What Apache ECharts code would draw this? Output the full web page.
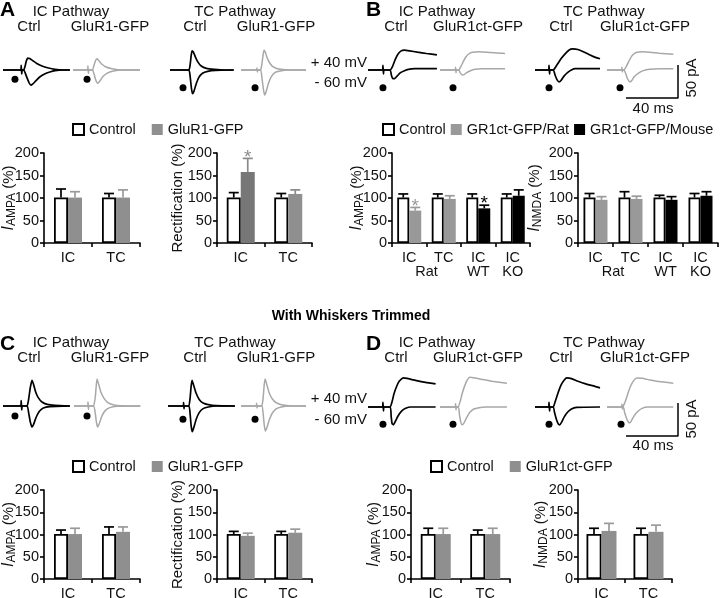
<!DOCTYPE html>
<html>
<head>
<meta charset="utf-8">
<script src="https://cdn.jsdelivr.net/npm/echarts@6.0.0/dist/echarts.min.js"></script>
<style>
html, body { margin: 0; background: #fff; }
#main { width: 720px; height: 598px; }
</style>
</head>
<body>
<div id="main"></div>
<script>
// ---- recordings, [time ms, current pA]; order: IC Ctrl, IC GFP, TC Ctrl, TC GFP ----
const traceA40 = [
  [[0,0],[13.7,0],[14,7],[14.4,-6],[14.8,0],[16,0],[17,6],[18,14],[19,18],[20.5,17.5],[23,14],[26,10],[30,6],[35,3],[40,1],[46,0],[51.5,0]],
  [[0,0],[11.2,0],[11.5,6],[11.8,-5],[12.2,0],[15,0],[16,6],[17.3,14],[18.5,17],[20,14],[22,9],[25,5],[30,2],[38,0],[51.5,0]],
  [[0,0],[14.5,0],[15.5,8],[16.3,22],[17,29],[18,27],[19.5,20],[21.5,12],[24,6],[28,2.5],[34,1],[42,0],[49,0]],
  [[0,0],[12,0],[12.3,3],[12.6,-3],[12.9,0],[15,0],[16,8],[17,23],[17.7,30],[18.7,27],[20,19],[22,11],[24.5,5],[28,2],[34,0.5],[50,0]]
];
const traceA60 = [
  [[0,0],[16,0],[17,-4],[18.5,-12],[20,-19],[21.5,-23],[23,-21],[25,-17],[28,-11],[32,-6],[36,-3],[40,-1],[46,0],[51.5,0]],
  [[0,0],[15,0],[16,-5],[17.5,-15],[19,-20],[20.5,-17],[23,-10],[26,-5],[31,-1.5],[38,0],[51.5,0]],
  [[0,0],[14.5,0],[15.5,-10],[16.5,-28],[17.3,-36],[18.3,-33],[20,-22],[22,-12],[25,-5],[29,-2],[35,-0.5],[49,0]],
  [[0,0],[15,0],[16,-10],[17.3,-30],[18.3,-38],[19.3,-33],[21,-21],[23,-11],[26,-4],[30,-1.5],[36,0],[50,0]]
];
const stimA = [[9.2,-14],[10.8,-14],[10,-27],[10.8,-27]];

const traceB40 = [
  [[0,0],[11.2,0],[11.5,7],[11.9,-6],[12.3,0],[17,0],[19,6],[21,16],[23,24],[25.5,29],[28,30],[32,29],[38,27],[45,25],[53,23]],
  [[0,0],[11.8,0],[12,4],[12.3,-4],[12.6,0],[14.5,0],[16,5],[18,13],[20,20],[22.5,25],[25,27],[30,27.5],[38,26.5],[46,25.5],[50,25]],
  [[0,0],[10.5,0],[10.8,7],[11.2,-6],[11.6,0],[14,0],[16,5],[18,11],[20,17],[23,24],[26,30],[29,32],[33,31],[38,27],[44,21],[50,17]],
  [[0,0],[11.3,0],[11.5,4],[11.8,-3],[12.1,0],[13,0],[15,6],[17,14],[19,21],[21,25],[23,27],[27,27.5],[33,27],[40,25.5],[51,24]]
];
const traceB60 = [
  [[0,0],[17,0],[18,-8],[19,-13],[20.5,-13],[22.5,-9],[25,-4],[28,-1],[31,1],[36,2],[53,2]],
  [[0,0],[14.5,0],[15.5,-4],[17,-7.5],[18.5,-7],[20.5,-4],[23,-1.5],[27,1],[32,2],[50,2]],
  [[0,0],[14,0],[15.5,-8],[17,-15],[18.5,-18],[20,-16],[22,-10],[25,-4],[28,0],[31,2],[38,2],[50,2]],
  [[0,0],[13,0],[14.5,-6],[16,-14],[17.7,-18],[19,-16],[21,-10],[24,-5],[28,-1],[33,1],[40,2],[51,2]]
];
const stimB = [[11.5,-27],[10,-27],[10.8,-27],[10,-27]];

const traceC40 = [
  [[0,0],[13.7,0],[14,8],[14.4,-6],[14.8,0],[18.5,0],[19.7,10],[21,28],[22.3,39],[23.3,34],[25,22],[27,13],[30,6],[34,2.5],[40,1],[51.5,0]],
  [[0,0],[10.5,0],[10.8,6],[11.1,-5],[11.4,0],[15,0],[16.3,12],[17,28],[17.7,41],[18.7,35],[20.5,22],[23,12],[26,5],[30,2],[36,0.5],[51,0]],
  [[0,0],[11.8,0],[12,5],[12.3,-4],[12.6,0],[16,0],[17,12],[17.8,30],[18.5,39],[19.5,33],[21.5,20],[24,10],[27,4.5],[31,2],[37,0.5],[51.5,0]],
  [[0,0],[11.8,0],[12,4],[12.3,-3],[12.6,0],[16,0],[17,12],[17.8,31],[18.5,41],[19.5,35],[21.5,21],[24,11],[27,5],[31,2],[37,0.5],[50,0]]
];
const traceC60 = [
  [[0,0],[18.5,0],[19.7,-10],[21,-24],[22.3,-32],[23.5,-28],[25.5,-17],[28,-8],[31,-3],[36,-1],[51.5,0]],
  [[0,0],[15,0],[16.3,-10],[17.2,-24],[18.2,-32],[19.4,-27],[21.5,-15],[24,-7],[27.5,-2.5],[33,-0.5],[51,0]],
  [[0,0],[16,0],[17,-12],[17.8,-30],[18.7,-39],[19.8,-33],[21.7,-20],[24,-10],[27,-4],[31,-1.5],[37,0],[51.5,0]],
  [[0,0],[16,0],[17,-11],[17.9,-29],[18.8,-38],[19.9,-33],[21.8,-21],[24,-11],[27,-4.5],[31,-1.5],[37,0],[50,0]]
];
const stimC = [[9.2,-15],[10,-15],[11.5,-20],[10.8,-20]];

const traceD40 = [
  [[0,0],[11.2,0],[11.5,7],[11.9,-6],[12.3,0],[17,0],[18.5,8],[20,20],[22,31],[24,39],[27,44],[30,43.5],[35,41],[42,38],[52,35]],
  [[0,0],[11.8,0],[12,5],[12.3,-4],[12.6,0],[14,0],[15.5,8],[17,20],[19,32],[21,41],[23,45],[27,44],[33,41.5],[40,39],[51.5,36]],
  [[0,0],[10.5,0],[10.8,7],[11.2,-6],[11.6,0],[14,0],[15.5,8],[17.5,20],[20,33],[22.5,41],[24.6,44],[28,43],[33,39],[39,35],[45,32],[50,29]],
  [[0,0],[11.3,0],[11.5,4],[11.8,-3],[12.1,0],[12.5,0],[14,8],[16,20],[18,31],[20.5,40],[23,44],[27,43.5],[33,41],[40,38.5],[51,36]]
];
const traceD60 = [
  [[0,0],[17,0],[17.8,-14],[18.5,-25],[19.5,-27],[21,-22],[23,-14],[26,-6],[29,-2],[33,0],[52,0]],
  [[0,0],[14,0],[15,-12],[16,-23],[17,-27],[18.5,-24],[20.5,-16],[23,-8],[26,-3],[30,-1],[35,0],[51.5,0]],
  [[0,0],[14,0],[15,-8],[16.5,-19],[18,-26],[19,-27],[20.5,-23],[22.5,-15],[25,-8],[28,-3],[32,-0.5],[50,0]],
  [[0,0],[12.5,0],[13.5,-8],[15,-17],[16.5,-23],[17.7,-24],[19,-20],[21,-13],[24,-6],[27,-2],[31,0],[51,0]]
];
const stimD = [[11.5,-26],[10,-26],[10.8,-26],[10.8,-26]];

// scale bar: 40 ms, 50 pA
const scaleBar = [[0,0],[40,0],[40,50]];

// ---- bar data (% of control) ----
const catsIcTc = ['IC', 'TC'];
const catsB = ['IC', 'TC', 'IC', 'IC'];
const groupsB = ['Rat', 'Rat', 'WT', 'KO'];

const aAmpaCtrl = [101, 101], aAmpaCtrlErr = [19, 9];
const aAmpaGfp = [101, 101], aAmpaGfpErr = [13, 17];
const aRectCtrl = [101, 101], aRectCtrlErr = [11, 9];
const aRectGfp = [158, 109], aRectGfpErr = [30, 9], aRectSig = [true, false];

const bAmpaCtrl = [101, 101, 101, 101], bAmpaCtrlErr = [8, 8, 8, 8];
const bAmpaRat = [72, 98, '-', '-'], bAmpaRatErr = [7, 7, '-', '-'], bAmpaRatSig = [true, false, false, false];
const bAmpaMouse = ['-', '-', 77, 105], bAmpaMouseErr = ['-', '-', 7, 13], bAmpaMouseSig = [false, false, true, false];
const bNmdaCtrl = [101, 101, 101, 101], bNmdaCtrlErr = [9, 13, 5, 9];
const bNmdaRat = [96, 98, '-', '-'], bNmdaRatErr = [7, 6, '-', '-'];
const bNmdaMouse = ['-', '-', 96, 105], bNmdaMouseErr = ['-', '-', 7, 9];

const cAmpaCtrl = [101, 101], cAmpaCtrlErr = [9, 16];
const cAmpaGfp = [101, 106], cAmpaGfpErr = [13, 11];
const cRectCtrl = [101, 101], cRectCtrlErr = [6, 6];
const cRectGfp = [97, 104], cRectGfpErr = [6, 8];

const dAmpaCtrl = [101, 101], dAmpaCtrlErr = [13, 9];
const dAmpaGfp = [101, 101], dAmpaGfpErr = [13, 13];
const dNmdaCtrl = [101, 101], dNmdaCtrlErr = [13, 13];
const dNmdaGfp = [108, 106], dNmdaGfpErr = [17, 15];

const FONT = '"Liberation Sans", Arial, Helvetica, sans-serif';
const INK = '#111';
const GRAY_TRACE = '#a8a8a8';
const GRAY_BAR = '#8f8f8f';
const PX_MS = 1.3, PX_PA = 0.66, T_MAX = 54, PA_MAX = 50;

const grid = [], xAxis = [], yAxis = [], series = [];

function addTraces(lefts, baseline, ups, downs, stims) {
  lefts.forEach((left, k) => {
    const gi = grid.length;
    grid.push({ left, top: baseline - PA_MAX * PX_PA, width: T_MAX * PX_MS, height: 2 * PA_MAX * PX_PA, outerBoundsMode: 'none' });
    xAxis.push({ type: 'value', gridIndex: gi, min: 0, max: T_MAX, show: false });
    yAxis.push({ type: 'value', gridIndex: gi, min: -PA_MAX, max: PA_MAX, show: false });
    const gray = k % 2 === 1;
    [ups[k], downs[k]].forEach(d => series.push({
      type: 'line', xAxisIndex: gi, yAxisIndex: gi, data: d, showSymbol: false, smooth: 0.15,
      lineStyle: { color: gray ? GRAY_TRACE : '#000', width: gray ? 1.5 : 1.7 }, silent: true, clip: false
    }));
    series.push({ type: 'scatter', xAxisIndex: gi, yAxisIndex: gi, data: [stims[k]], symbolSize: 7,
      itemStyle: { color: '#000', opacity: 1 }, silent: true });
  });
}

function addScaleBar(left, top) {
  const gi = grid.length;
  grid.push({ left, top, width: 40 * PX_MS, height: 50 * PX_PA, outerBoundsMode: 'none' });
  xAxis.push({ type: 'value', gridIndex: gi, min: 0, max: 40, show: false });
  yAxis.push({ type: 'value', gridIndex: gi, min: 0, max: 50, show: false });
  series.push({ type: 'line', xAxisIndex: gi, yAxisIndex: gi, data: scaleBar, showSymbol: false, clip: false, silent: true, lineStyle: { color: '#000', width: 1.5 } });
}

function errorSeries(gi, vals, errs, side, bw, color, sig) {
  const data = [];
  vals.forEach((v, i) => { if (v !== '-') data.push([i, v, errs[i], sig && sig[i] ? 1 : 0]); });
  return {
    type: 'custom', xAxisIndex: gi, yAxisIndex: gi, data, clip: false, silent: true, z: 3,
    encode: { x: 0, y: 1 },
    renderItem(params, api) {
      const base = api.coord([api.value(0), api.value(1)]);
      const top = api.coord([api.value(0), api.value(1) + api.value(2)]);
      const x = base[0] + side * bw / 2;
      const kids = [
        { type: 'line', shape: { x1: x, y1: base[1], x2: x, y2: top[1] }, style: { stroke: color, lineWidth: 1.7 } },
        { type: 'line', shape: { x1: x - 5, y1: top[1], x2: x + 5, y2: top[1] }, style: { stroke: color, lineWidth: 1.7 } }
      ];
      if (api.value(3)) {
        kids.push({ type: 'text', x, y: top[1] - 1, style: { text: '*', fill: color, fontSize: 19, fontFamily: FONT, align: 'center', verticalAlign: 'middle' } });
      }
      return { type: 'group', children: kids };
    }
  };
}

function groupSeries(gi, groups) {
  const spans = [];
  groups.forEach((g, i) => {
    const last = spans[spans.length - 1];
    if (last && last[2] === g) last[1] = i; else spans.push([i, i, g]);
  });
  return {
    type: 'custom', xAxisIndex: gi, yAxisIndex: gi, clip: false, silent: true,
    data: spans.map(s => [s[0], s[1], 0]), encode: { x: [0, 1], y: 2 },
    renderItem(params, api) {
      const a = api.coord([api.value(0), 0]);
      const b = api.coord([api.value(1), 0]);
      return { type: 'text', x: (a[0] + b[0]) / 2, y: a[1] + 29,
        style: { text: spans[params.dataIndex][2], fontSize: 14.5, fontFamily: FONT, fill: INK, align: 'center', verticalAlign: 'middle' } };
    }
  };
}

const nameRich = {
  i: { fontStyle: 'italic', fontSize: 16, fontFamily: FONT, color: INK, padding: [0, 0, 5, 0] },
  s: { fontSize: 12, fontFamily: FONT, color: INK },
  n: { fontSize: 15, fontFamily: FONT, color: INK, padding: [0, 0, 5, 0] }
};

function addBars(c) {
  const gi = grid.length;
  const axisLine = { show: true, lineStyle: { color: '#000', width: 1.6 } };
  const tick = { show: true, length: 4, inside: false, lineStyle: { color: '#000', width: 1.6 } };
  grid.push({ left: c.left, top: c.top, width: c.width, height: c.height, outerBoundsMode: 'none' });
  xAxis.push({
    type: 'category', gridIndex: gi, data: c.cats, axisLine, axisTick: Object.assign({ alignWithLabel: false }, tick),
    axisLabel: { fontSize: 14.5, color: INK, margin: 7, fontFamily: FONT }
  });
  yAxis.push({
    type: 'value', gridIndex: gi, min: 0, max: 200, interval: 50, axisLine, axisTick: tick,
    axisLabel: { fontSize: 14.5, color: INK, margin: 5, fontFamily: FONT }, splitLine: { show: false },
    name: c.yName, nameLocation: 'middle', nameRotate: 90, nameGap: c.nameGap, nameMoveOverlap: false,
    nameTextStyle: { fontSize: 15, color: INK, fontFamily: FONT, rich: nameRich }
  });
  const stack = 'test' + gi;
  series.push({
    type: 'bar', name: 'Control', xAxisIndex: gi, yAxisIndex: gi, data: c.ctrl, barWidth: c.bw, barGap: '0%',
    itemStyle: { color: '#fff', borderColor: '#000', borderWidth: 1.8 }, silent: true
  });
  series.push(errorSeries(gi, c.ctrl, c.ctrlErr, -1, c.bw, '#000', null));
  c.tests.forEach(t => {
    series.push({
      type: 'bar', name: t.name, xAxisIndex: gi, yAxisIndex: gi, stack, barWidth: c.bw, barGap: '0%', silent: true,
      data: t.data.map((v, i) => (t.shade && t.shade[i]) ? { value: v, itemStyle: { color: t.shade[i] } } : v),
      itemStyle: { color: t.color }
    });
    series.push(errorSeries(gi, t.data, t.err, 1, c.bw, t.errColor, t.sig));
  });
  if (c.groups) series.push(groupSeries(gi, c.groups));
}

// traces
addTraces([3, 73, 170, 241], 70, traceA40, traceA60, stimA);
addTraces([368, 440, 535, 607], 70, traceB40, traceB60, stimB);
addTraces([3, 74, 168, 241], 406, traceC40, traceC60, stimC);
addTraces([368, 440, 535, 607], 407, traceD40, traceD60, stimD);
addScaleBar(626, 65);
addScaleBar(626, 403);

const AMPA = '{i|I}{s|AMPA}{n| (%)}';
const NMDA = '{i|I}{s|NMDA}{n| (%)}';
const RECT = 'Rectification (%)';
const gfp = (name, data, err, extra) => Object.assign({ name, data, err, color: GRAY_BAR, errColor: '#9a9a9a' }, extra || {});

addBars({ left: 44, top: 153, width: 96, height: 90, bw: 14, cats: catsIcTc, yName: AMPA, nameGap: 22,
  ctrl: aAmpaCtrl, ctrlErr: aAmpaCtrlErr, tests: [gfp('GluR1-GFP', aAmpaGfp, aAmpaGfpErr)] });
addBars({ left: 217, top: 153, width: 95, height: 90, bw: 14, cats: catsIcTc, yName: RECT, nameGap: 32,
  ctrl: aRectCtrl, ctrlErr: aRectCtrlErr,
  tests: [gfp('GluR1-GFP', aRectGfp, aRectGfpErr, { sig: aRectSig, shade: ['#777', null], errColor: '#8a8a8a' })] });
addBars({ left: 392, top: 153, width: 138, height: 90, bw: 12, cats: catsB, groups: groupsB, yName: AMPA, nameGap: 22,
  ctrl: bAmpaCtrl, ctrlErr: bAmpaCtrlErr,
  tests: [gfp('GR1ct-GFP/Rat', bAmpaRat, bAmpaRatErr, { sig: bAmpaRatSig, color: '#999' }),
          { name: 'GR1ct-GFP/Mouse', data: bAmpaMouse, err: bAmpaMouseErr, sig: bAmpaMouseSig, color: '#000', errColor: '#000' }] });
addBars({ left: 578, top: 153, width: 140, height: 90, bw: 12, cats: catsB, groups: groupsB, yName: NMDA, nameGap: 30,
  ctrl: bNmdaCtrl, ctrlErr: bNmdaCtrlErr,
  tests: [gfp('GR1ct-GFP/Rat', bNmdaRat, bNmdaRatErr, { color: '#999' }),
          { name: 'GR1ct-GFP/Mouse', data: bNmdaMouse, err: bNmdaMouseErr, color: '#000', errColor: '#000' }] });
addBars({ left: 44, top: 490, width: 96, height: 89, bw: 14, cats: catsIcTc, yName: AMPA, nameGap: 22,
  ctrl: cAmpaCtrl, ctrlErr: cAmpaCtrlErr, tests: [gfp('GluR1-GFP', cAmpaGfp, cAmpaGfpErr)] });
addBars({ left: 217, top: 490, width: 95, height: 89, bw: 14, cats: catsIcTc, yName: RECT, nameGap: 32,
  ctrl: cRectCtrl, ctrlErr: cRectCtrlErr, tests: [gfp('GluR1-GFP', cRectGfp, cRectGfpErr)] });
addBars({ left: 411, top: 490, width: 99, height: 89, bw: 15, cats: catsIcTc, yName: AMPA, nameGap: 24,
  ctrl: dAmpaCtrl, ctrlErr: dAmpaCtrlErr, tests: [gfp('GluR1ct-GFP', dAmpaGfp, dAmpaGfpErr)] });
addBars({ left: 578, top: 490, width: 94, height: 89, bw: 15, cats: catsIcTc, yName: NMDA, nameGap: 24,
  ctrl: dNmdaCtrl, ctrlErr: dNmdaCtrlErr, tests: [gfp('GluR1ct-GFP', dNmdaGfp, dNmdaGfpErr)] });

// ---- text ----
function txt(text, x, y, extra) {
  const el = { type: 'text', x, y, silent: true,
    style: { text, fontSize: 15, fontFamily: FONT, fill: INK, align: 'center', verticalAlign: 'middle' } };
  if (extra) { Object.assign(el.style, extra.style || {}); if (extra.rotation) el.rotation = extra.rotation; }
  return el;
}
const letter = (t, x, y) => txt(t, x, y, { style: { fontSize: 21, fontWeight: 'bold', align: 'left', verticalAlign: 'top', fill: '#000' } });
const graphic = [
  letter('A', 0, 0), letter('B', 366, 0), letter('C', 0, 334), letter('D', 366, 334)
];
[0, 331].forEach(dy => {
  graphic.push(txt('IC Pathway', 71, 12 + dy), txt('Ctrl', 29, 27 + dy), txt('GluR1-GFP', 110, 27 + dy),
    txt('TC Pathway', 235, 12 + dy), txt('Ctrl', 195, 27 + dy), txt('GluR1-GFP', 276, 27 + dy),
    txt('IC Pathway', 437, 12 + dy), txt('Ctrl', 396, 27 + dy), txt('GluR1ct-GFP', 478, 27 + dy),
    txt('TC Pathway', 604, 12 + dy), txt('Ctrl', 561, 27 + dy), txt('GluR1ct-GFP', 645, 27 + dy));
});
[[63, 83], [399, 420]].forEach(([y1, y2]) => {
  graphic.push(txt('+ 40 mV', 367, y1, { style: { align: 'right' } }), txt('- 60 mV', 367, y2, { style: { align: 'right' } }));
});
[[109, 78], [446, 419]].forEach(([yMs, yPa]) => {
  graphic.push(txt('40 ms', 653, yMs), txt('50 pA', 692, yPa, { rotation: Math.PI / 2 }));
});
graphic.push(txt('With Whiskers Trimmed', 351, 316, { style: { fontWeight: 'bold', fontSize: 14, fill: '#000' } }));

const legendBase = {
  orient: 'horizontal', padding: 0, icon: 'rect', itemWidth: 11, itemHeight: 11, selectedMode: false,
  textStyle: { fontSize: 14.5, color: INK, fontFamily: FONT }
};
const legend = [
  Object.assign({ data: ['Control', 'GluR1-GFP'], left: 72, top: 122, itemGap: 16 }, legendBase),
  Object.assign({ data: ['Control', 'GR1ct-GFP/Rat', 'GR1ct-GFP/Mouse'], left: 382, top: 122, itemGap: 5, width: 338 }, legendBase),
  Object.assign({ data: ['Control', 'GluR1-GFP'], left: 72, top: 459, itemGap: 16 }, legendBase),
  Object.assign({ data: ['Control', 'GluR1ct-GFP'], left: 430, top: 459, itemGap: 16 }, legendBase)
];

const chart = echarts.init(document.getElementById('main'), null, { renderer: 'canvas' });
chart.setOption({
  animation: false,
  backgroundColor: '#fff',
  textStyle: { fontFamily: FONT },
  grid, xAxis, yAxis, legend, series, graphic
});
</script>
</body>
</html>
